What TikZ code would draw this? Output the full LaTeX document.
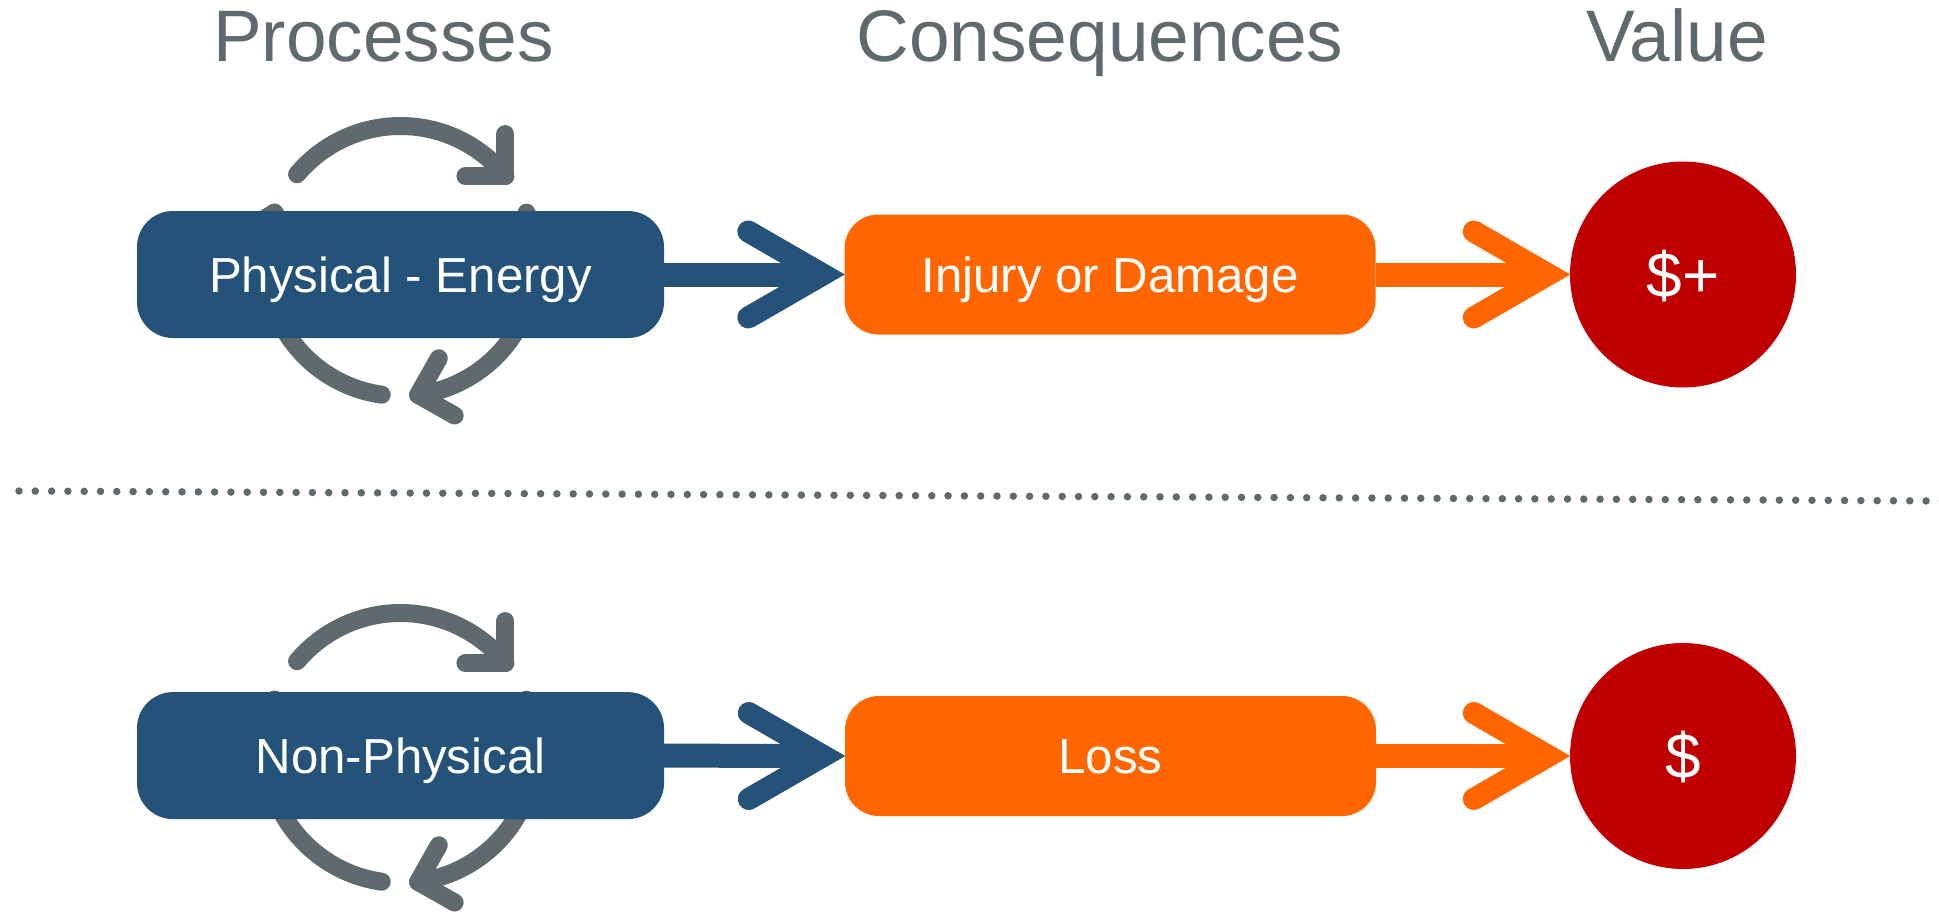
\documentclass[tikz,border=0pt]{standalone}
\usepackage{fontspec}
\setmainfont{Liberation Sans}
\usetikzlibrary{calc}
\pgfdeclarelayer{bg}
\pgfsetlayers{bg,main}

\definecolor{procblue}{HTML}{245279}
\definecolor{consorange}{HTML}{FF6600}
\definecolor{valred}{HTML}{C00000}
\definecolor{slate}{HTML}{5E6A6D}

% arrow from one node to the next: thick shaft plus an open chevron head
\newcommand{\flowarrow}[3]{%
  \draw[shaft, draw=#1] (#2.east) -- ([xshift=-28pt]#3.west);
  \draw[chevron, draw=#1] ([shift={(-96,-43)}]#3.west) -- ([xshift=-21.5pt]#3.west)
        -- ([shift={(-96,43)}]#3.west);
}

% circular "process" mark made of three arrowed arcs around a centre
\newcommand{\cyclemark}[1]{%
  \draw[cyc] (#1) ++(-140:135) arc[start angle=-140, end angle=-39, radius=135] coordinate (cyA);
  \draw[cyc] ([shift={(-90:42)}]cyA) -- (cyA) -- ([shift={(-180:40)}]cyA);
  \draw[cyc] (#1) ++(-21:135) arc[start angle=-21, end angle=82.5, radius=135] coordinate (cyB);
  \draw[cyc] ([shift={(29.5:42)}]cyB) -- (cyB) -- ([shift={(-60.5:42)}]cyB);
  \draw[cyc] (#1) ++(98:135) arc[start angle=98, end angle=201, radius=135] coordinate (cyC);
  \draw[cyc] ([shift={(148:42)}]cyC) -- (cyC) -- ([shift={(58:42)}]cyC);
}

\begin{document}
\begin{tikzpicture}[x=1pt, y=-1pt,
  headtext/.style={text=slate, inner sep=0pt, anchor=base,
    font=\fontsize{73pt}{80pt}\selectfont},
  procbox/.style={rectangle, rounded corners=36pt, fill=procblue, text=white,
    minimum width=527pt, minimum height=127pt, inner sep=0pt,
    text height=35.2pt, text depth=0pt, font=\fontsize{49.2pt}{55pt}\selectfont},
  consbox/.style={rectangle, rounded corners=34pt, fill=consorange, text=white,
    minimum width=531pt, minimum height=120pt, inner sep=0pt,
    text height=35.2pt, text depth=0pt, font=\fontsize{49.2pt}{55pt}\selectfont},
  valdot/.style={circle, fill=valred, text=white, minimum size=226pt, inner sep=0pt,
    text height=45.8pt, text depth=0pt, font=\fontsize{64pt}{70pt}\selectfont},
  shaft/.style={line width=24pt, line cap=butt},
  chevron/.style={line width=22pt, line cap=round, line join=miter},
  cyc/.style={draw=slate, line width=18pt, line cap=round, line join=round},
  sepline/.style={draw=slate, line width=7.5pt, line cap=round,
    dash pattern=on 0pt off 16.3pt}
]
\useasboundingbox (0,0) rectangle (1939,915);

% column headings
\node[headtext] (hproc) at (383.5,62) {Processes};
\node[headtext] (hcons) at (1100,62) {Consequences};
\node[headtext] (hval)  at (1677,62) {Value};

% upper row
\node[procbox, text height=35.2pt] (phys) at (400.5,274.5) {Physical - Energy};
\node[consbox] (injury) at (1110,274.5) {Injury or Damage};
\node[valdot] (valplus) at (1683,274.5) {\$+};

% lower row
\node[procbox] (nonphys) at (400.5,755.6) {Non-Physical};
\node[consbox] (loss) at (1110.5,756) {Loss};
\node[valdot] (valbase) at (1683,756) {\$};

% cycle marks behind the process boxes
\coordinate (cycTop) at ($(phys.center)+(0,-13.5)$);
\coordinate (cycBot) at ($(nonphys.center)+(0,-7.6)$);
\begin{pgfonlayer}{bg}
  \cyclemark{cycTop}
  \cyclemark{cycBot}
\end{pgfonlayer}

% flow arrows
\flowarrow{procblue}{phys}{injury}
\flowarrow{consorange}{injury}{valplus}
\flowarrow{procblue}{nonphys}{loss}
\flowarrow{consorange}{loss}{valbase}

% dotted separator between the two rows
\coordinate (sepL) at (19,491);
\coordinate (sepR) at (1946,501);
\draw[sepline] (sepL) -- (sepR);
\end{tikzpicture}
\end{document}
